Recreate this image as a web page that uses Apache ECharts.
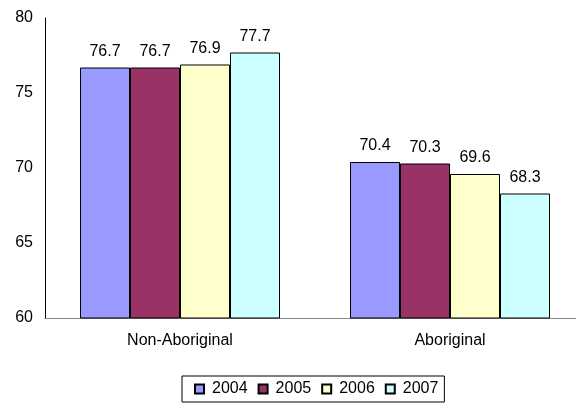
<!DOCTYPE html>
<html>
<head>
<meta charset="utf-8">
<script src="https://cdn.jsdelivr.net/npm/echarts@6/dist/echarts.min.js"></script>
<style>
html,body{margin:0;padding:0;background:#fff;overflow:hidden;width:576px;height:406px;}
#chart{width:590px;height:406px;}
</style>
</head>
<body>
<div id="chart"></div>
<script>
// Life expectancy groups and yearly values
const categories = ['Non-Aboriginal', 'Aboriginal'];
const years = ['2004', '2005', '2006', '2007'];
const v2004 = [76.7, 70.4];
const v2005 = [76.7, 70.3];
const v2006 = [76.9, 69.6];
const v2007 = [77.7, 68.3];
const yTicks = [60, 65, 70, 75, 80];

const colors = ['#9999FF', '#993366', '#FFFFCC', '#CCFFFF'];
const seriesValues = [v2004, v2005, v2006, v2007];
const font = 'Liberation Sans, Arial, sans-serif';

// the plot area runs slightly past the visible right edge
const chart = echarts.init(document.getElementById('chart'), null, {renderer: 'canvas'});
chart.setOption({
  animation: false,
  backgroundColor: '#fff',
  textStyle: {fontFamily: font},
  grid: {left: 45, top: 18, width: 540, bottom: 88, containLabel: false},
  legend: {
    bottom: 4,
    left: 182,
    itemWidth: 9,
    itemHeight: 9,
    itemGap: 10,
    padding: [5, 6, 5, 12],
    borderColor: '#000',
    borderWidth: 1,
    textStyle: {fontSize: 16, color: '#000', fontFamily: font, padding: [0, 0, 0, 3]},
    data: years.map(y => ({name: y, icon: 'rect'}))
  },
  xAxis: {
    type: 'category',
    data: categories,
    axisLine: {lineStyle: {color: '#888', width: 1}},
    axisTick: {show: false},
    axisLabel: {fontSize: 16, color: '#000', margin: 15, fontFamily: font}
  },
  yAxis: {
    type: 'value',
    min: yTicks[0],
    max: yTicks[yTicks.length - 1],
    interval: 5,
    axisLine: {show: true, lineStyle: {color: '#000', width: 1}},
    axisTick: {show: false},
    splitLine: {show: false},
    axisLabel: {fontSize: 16, color: '#000', margin: 12, fontFamily: font}
  },
  series: years.map((y, i) => ({
    name: y,
    type: 'bar',
    data: seriesValues[i],
    barWidth: 50,
    barGap: '0%',
    itemStyle: {color: colors[i], borderColor: '#000', borderWidth: 1},
    label: {
      show: true,
      position: 'top',
      distance: 8,
      fontSize: 16,
      color: '#000',
      fontFamily: font,
      formatter: p => p.value.toFixed(1)
    }
  }))
});
</script>
</body>
</html>
